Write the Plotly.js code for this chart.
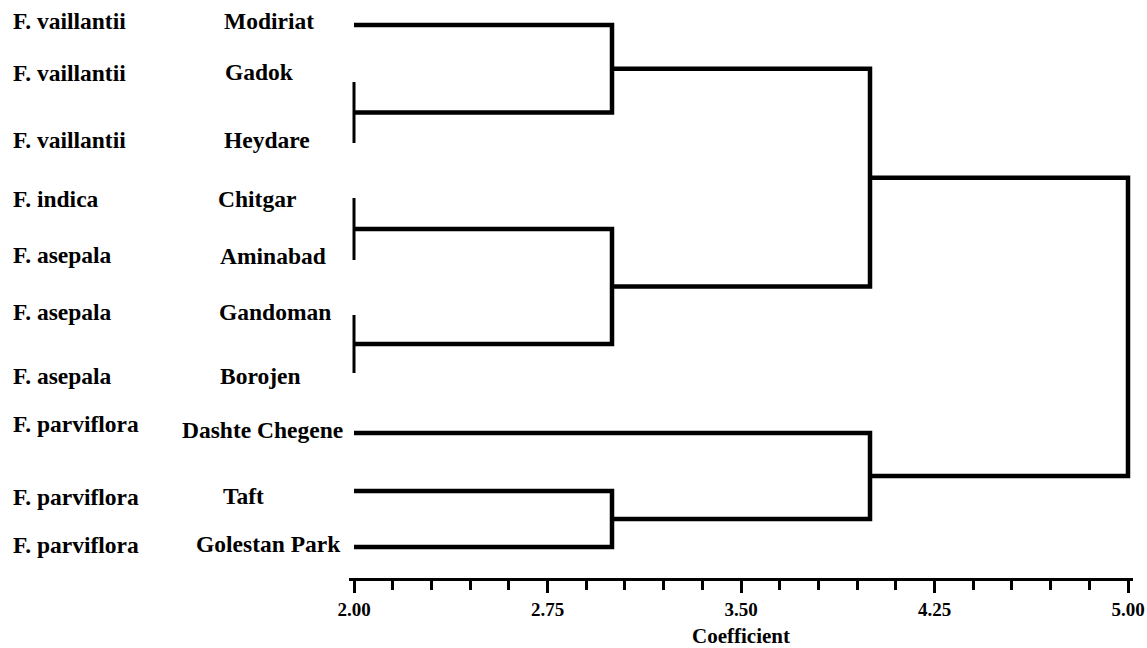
<!DOCTYPE html>
<html>
<head>
<meta charset="utf-8">
<script src="https://cdn.plot.ly/plotly-3.0.1.min.js"></script>
<style>html,body{margin:0;padding:0;background:#fff;}#chart{width:1147px;height:648px;}</style>
</head>
<body>
<div id="chart"></div>
<script>
// ---- data ----
const siteNames = ['Modiriat','Gadok','Heydare','Chitgar','Aminabad','Gandoman','Borojen','Dashte Chegene','Taft','Golestan Park'];
const speciesNames = ['F. vaillantii','F. vaillantii','F. vaillantii','F. indica','F. asepala','F. asepala','F. asepala','F. parviflora','F. parviflora','F. parviflora'];
// vertical position of each leaf (row scale, top = 0)
const leafPos = [25, 82, 143, 198, 260, 315, 373, 433, 491, 547];
// merges: leaves are nodes 0..9, merge k creates node 10+k
const mergeA = [1, 3, 5, 0, 11, 8, 13, 7, 16];
const mergeB = [2, 4, 6, 10, 12, 9, 14, 15, 17];
const mergeH = [2.0, 2.0, 2.0, 3.0, 3.0, 3.0, 4.0, 4.0, 5.0];
const leafHeight = 2.0;
const axisTick0 = 2.0, axisMax = 5.0, majorStep = 0.75, minorStep = 0.15;

// ---- label placement (style) ----
const FONT = 'Liberation Serif, Times New Roman, serif';
const speciesLeftPx = 11;
const speciesYpx = [21, 73, 140, 199, 255, 312, 376, 424, 497, 545];
const siteLeftPx = [222, 223, 222, 216, 218, 217, 218, 180, 221, 194];
const siteYpx = [21, 72, 140, 199, 256, 312, 376, 430, 496, 544];

const M = {l: 349, r: 14, t: 0, b: 70};
const W = 1147 - M.l - M.r;
const pad = 5 * 3 / 774; // range padding so end lines are not clipped
const xRange = [axisTick0 - pad, axisMax + pad];

// ---- build dendrogram paths ----
const nodeY = leafPos.slice();
const nodeH = leafPos.map(() => leafHeight);
const thick = {x: [], y: []}, thin = {x: [], y: []};
for (let k = 0; k < mergeA.length; k++) {
  const a = mergeA[k], b = mergeB[k], H = mergeH[k];
  const t = (H === leafHeight) ? thin : thick;
  t.x.push(nodeH[a], H, H, nodeH[b], null);
  t.y.push(nodeY[a], nodeY[a], nodeY[b], nodeY[b], null);
  nodeY.push((nodeY[a] + nodeY[b]) / 2);
  nodeH.push(H);
}

const traces = [
  {type: 'scatter', mode: 'lines', x: thick.x, y: thick.y, line: {color: '#000', width: 4.5}, hoverinfo: 'skip', connectgaps: false},
  {type: 'scatter', mode: 'lines', x: thin.x, y: thin.y, line: {color: '#000', width: 3}, hoverinfo: 'skip', connectgaps: false}
];

const annotations = [];
const labFont = {family: FONT, size: 23.5, color: '#000', weight: 'bold'};
for (let i = 0; i < siteNames.length; i++) {
  annotations.push({xref: 'paper', yref: 'y', x: (speciesLeftPx - M.l) / W, y: speciesYpx[i], xanchor: 'left', yanchor: 'middle',
    text: speciesNames[i], showarrow: false, font: labFont});
  annotations.push({xref: 'paper', yref: 'y', x: (siteLeftPx[i] - M.l) / W, y: siteYpx[i], xanchor: 'left', yanchor: 'middle',
    text: siteNames[i], showarrow: false, font: labFont});
}

const layout = {
  width: 1147, height: 648,
  margin: M,
  paper_bgcolor: '#fff', plot_bgcolor: '#fff',
  showlegend: false,
  xaxis: {
    range: xRange, tick0: axisTick0, dtick: majorStep, tickformat: '.2f',
    ticks: 'outside', ticklen: 12, tickwidth: 3, tickcolor: '#000',
    showline: true, linewidth: 3, linecolor: '#000',
    showgrid: false, zeroline: false, fixedrange: true,
    tickfont: {family: FONT, size: 19, color: '#000', weight: 'bold'},
    minor: {tick0: axisTick0, dtick: minorStep, ticks: 'outside', ticklen: 9, tickwidth: 3, tickcolor: '#000', showgrid: false},
    title: {text: 'Coefficient', font: {family: FONT, size: 21, color: '#000', weight: 'bold'}, standoff: 11}
  },
  yaxis: {range: [578, 0], visible: false, fixedrange: true},
  annotations: annotations
};

Plotly.newPlot('chart', traces, layout, {displayModeBar: false, staticPlot: true});
</script>
</body>
</html>
